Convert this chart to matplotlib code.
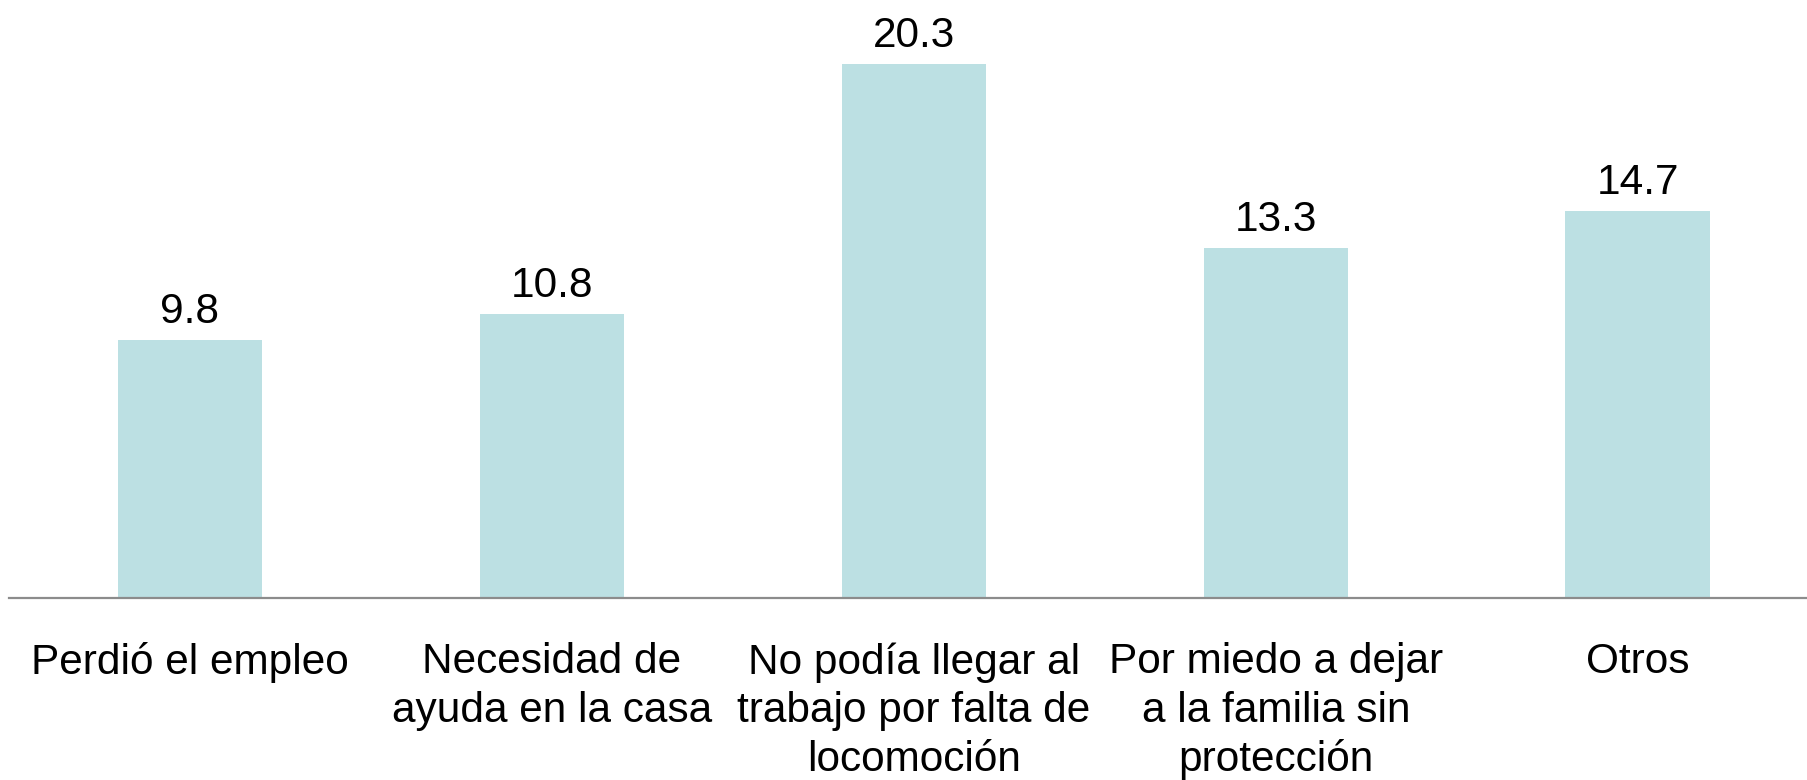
import matplotlib
matplotlib.use("Agg")
from matplotlib import pyplot as plt

# categories and values
categorias = ["Perdió el empleo",
              "Necesidad de\nayuda en la casa",
              "No podía llegar al\ntrabajo por falta de\nlocomoción",
              "Por miedo a dejar\na la familia sin\nprotección",
              "Otros"]
valores = [9.8, 10.8, 20.3, 13.3, 14.7]

plt.rcParams['font.family'] = ['Liberation Sans', 'DejaVu Sans']

fig = plt.figure(figsize=(18.08, 7.8), dpi=100)
ax = fig.add_axes([9/1808, 182/780, 1 - 9/1808, 560/780])

x = list(range(len(categorias)))
barras = ax.bar(x, valores, width=0.4, color='#bce0e3')

for b, v in zip(barras, valores):
    ax.annotate(f"{v:.1f}", (b.get_x() + b.get_width()/2, v),
                xytext=(0, 6), textcoords='offset points',
                ha='center', va='bottom', fontsize=30.5)

ax.set_xlim(-0.5, 4.47)
ax.set_ylim(0, 560/26.3)
ax.set_xticks(x)
ax.set_xticklabels(categorias, fontsize=30.5, linespacing=1.27, va='top')
ax.tick_params(axis='x', length=0, pad=32)
ax.set_yticks([])
for s in ['top', 'right', 'left']:
    ax.spines[s].set_visible(False)
ax.spines['bottom'].set_color('#8c8c8c')
ax.spines['bottom'].set_linewidth(1.6)

fig.savefig('out.png', dpi=100)
